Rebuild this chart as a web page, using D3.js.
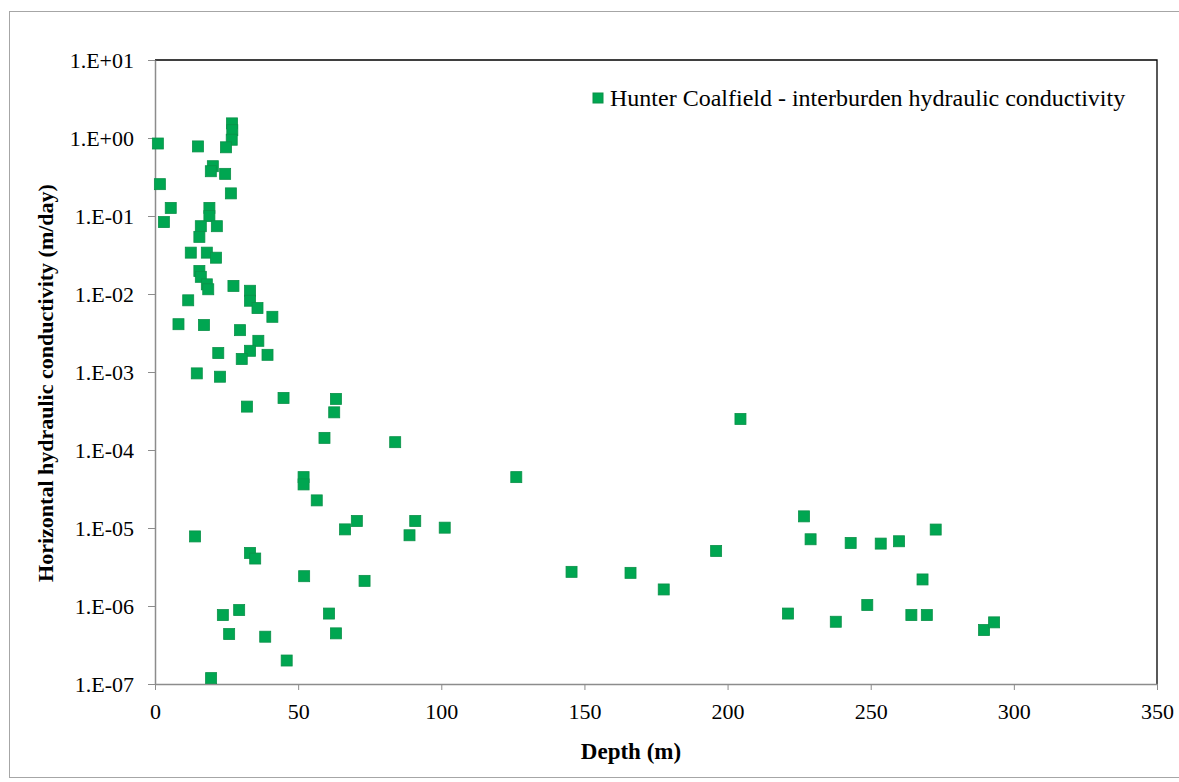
<!DOCTYPE html>
<meta charset="utf-8">
<style>
body { margin: 0; background: #fff; }
.axis path, .axis line { stroke: #8c8c8c; }
.ylab { font-family: "Liberation Serif", serif; font-size: 22px; fill: #000; }
.xlab { font-family: "Liberation Serif", serif; font-size: 22px; fill: #000; }
.title { font-family: "Liberation Serif", serif; font-weight: bold; fill: #000; }
</style>
<svg width="1179" height="782"></svg>
<script src="https://d3js.org/d3.v7.min.js"></script>
<script>

// depth (m) and horizontal hydraulic conductivity (m/day)
var depth = [1, 1.7, 5.5, 3.1, 15, 26.9, 27, 26.8, 24.8, 20.2, 19.5, 24.5, 26.5, 19, 19,
  16, 21.6, 15.5, 12.5, 18.1, 21.3, 15.5, 16, 18.1, 18.6, 27.4, 33.2, 33.2, 35.8, 41,
  11.6, 8.2, 17.1, 29.7, 36.1, 33.2, 39.3, 30.3, 22.1, 14.6, 22.7, 32.1, 44.9, 63.2, 62.6,
  59.2, 83.9, 51.9, 51.9, 56.5, 70.5, 66.4, 90.9, 88.9, 101.2, 52.1, 73.2, 60.8, 63.2, 46,
  14, 33.2, 35, 29.4, 23.7, 25.9, 38.5, 19.6, 204.5, 126.2, 196, 145.5, 166.1, 177.7, 226.7,
  229, 243, 253.5, 259.9, 272.7, 268.1, 248.8, 221.1, 237.8, 264.2, 269.6, 289.6, 293.1];

var conductivity = [0.85, 0.256, 0.127, 0.0836, 0.78, 1.54, 1.26, 0.95, 0.76, 0.435, 0.375, 0.347, 0.195, 0.127, 0.0997,
  0.074, 0.074, 0.054, 0.0339, 0.0339, 0.0292, 0.0197, 0.0166, 0.0133, 0.0115, 0.0127, 0.011, 0.0082, 0.0066, 0.0051,
  0.0083, 0.0041, 0.0040, 0.00344, 0.00251, 0.00187, 0.00166, 0.00147, 0.00175, 0.00096, 0.00087, 0.00036, 0.000465, 0.000452, 0.000304,
  0.000143, 0.000126, 4.49e-5, 3.62e-5, 2.26e-5, 1.23e-5, 9.6e-6, 1.23e-5, 8.07e-6, 1.01e-5, 2.41e-6, 2.1e-6, 8.0e-7, 4.46e-7, 2.0e-7,
  7.8e-6, 4.79e-6, 4.06e-6, 8.87e-7, 7.65e-7, 4.37e-7, 4.04e-7, 1.19e-7, 2.5e-4, 4.49e-5, 5.08e-6, 2.74e-6, 2.66e-6, 1.63e-6, 1.41e-5,
  7.17e-6, 6.43e-6, 6.31e-6, 6.76e-6, 9.55e-6, 2.19e-6, 1.03e-6, 8.0e-7, 6.28e-7, 7.65e-7, 7.65e-7, 4.92e-7, 6.17e-7];

var xTicks = [0, 50, 100, 150, 200, 250, 300, 350];
var yTicks = [1e1, 1e0, 1e-1, 1e-2, 1e-3, 1e-4, 1e-5, 1e-6, 1e-7];
var yTickLabels = ["1.E+01", "1.E+00", "1.E-01", "1.E-02", "1.E-03", "1.E-04", "1.E-05", "1.E-06", "1.E-07"];
var seriesName = "Hunter Coalfield - interburden hydraulic conductivity";

var svg = d3.select("svg");
var plot = {left: 155, right: 1157, top: 60, bottom: 684};

var x = d3.scaleLinear().domain([0, 350]).range([plot.left, plot.right]);
var y = d3.scaleLog().domain([1e-7, 1e1]).range([plot.bottom, plot.top]);

// outer chart border
svg.append("rect")
    .attr("x", 9.5).attr("y", 11.5)
    .attr("width", 1185).attr("height", 766)
    .attr("fill", "none")
    .attr("stroke", "#a6a6a6");

// plot frame (top and right)
svg.append("path")
    .attr("d", "M" + plot.left + "," + plot.top + "H" + plot.right + "V" + plot.bottom)
    .attr("fill", "none")
    .attr("stroke", "#000")
    .attr("stroke-width", 1.3);

var yAxis = svg.append("g")
    .attr("class", "axis")
    .attr("transform", "translate(" + plot.left + ",0)")
    .call(d3.axisLeft(y).tickValues(yTicks).tickSize(7).tickSizeOuter(0)
      .tickFormat((d, i) => yTickLabels[i]));
yAxis.selectAll("text").attr("class", "ylab").attr("x", -21).attr("dy", "0.33em");
yAxis.select(".domain").attr("stroke-width", 1.5);

var xAxis = svg.append("g")
    .attr("class", "axis")
    .attr("transform", "translate(0," + plot.bottom + ")")
    .call(d3.axisBottom(x).tickValues(xTicks).tickSize(6).tickSizeOuter(0));
xAxis.selectAll("text").attr("class", "xlab").attr("y", 19).attr("dy", "0.71em");
xAxis.select(".domain").attr("stroke-width", 1.5);

// points
svg.append("g")
  .selectAll("rect")
  .data(d3.range(depth.length))
  .enter()
  .append("rect")
    .attr("x", i => x(depth[i]) - 5.5)
    .attr("y", i => y(conductivity[i]) - 5.5)
    .attr("width", 11)
    .attr("height", 11)
    .attr("fill", "#00a651")
    .attr("stroke", "#0b9149")
    .attr("stroke-width", 0.8);

// legend
svg.append("rect")
    .attr("x", 593).attr("y", 93)
    .attr("width", 10).attr("height", 10)
    .attr("fill", "#00a651")
    .attr("stroke", "#0b9149");
svg.append("text")
    .attr("class", "title")
    .attr("x", 610).attr("y", 106)
    .style("font-weight", "normal")
    .style("font-size", "24px")
    .text(seriesName);

// axis titles
svg.append("text")
    .attr("class", "title")
    .attr("x", 631).attr("y", 759)
    .attr("text-anchor", "middle")
    .style("font-size", "23px")
    .text("Depth (m)");

svg.append("text")
    .attr("class", "title")
    .attr("transform", "translate(53,383) rotate(-90)")
    .attr("text-anchor", "middle")
    .style("font-size", "22px")
    .text("Horizontal hydraulic conductivity (m/day)");

</script>
